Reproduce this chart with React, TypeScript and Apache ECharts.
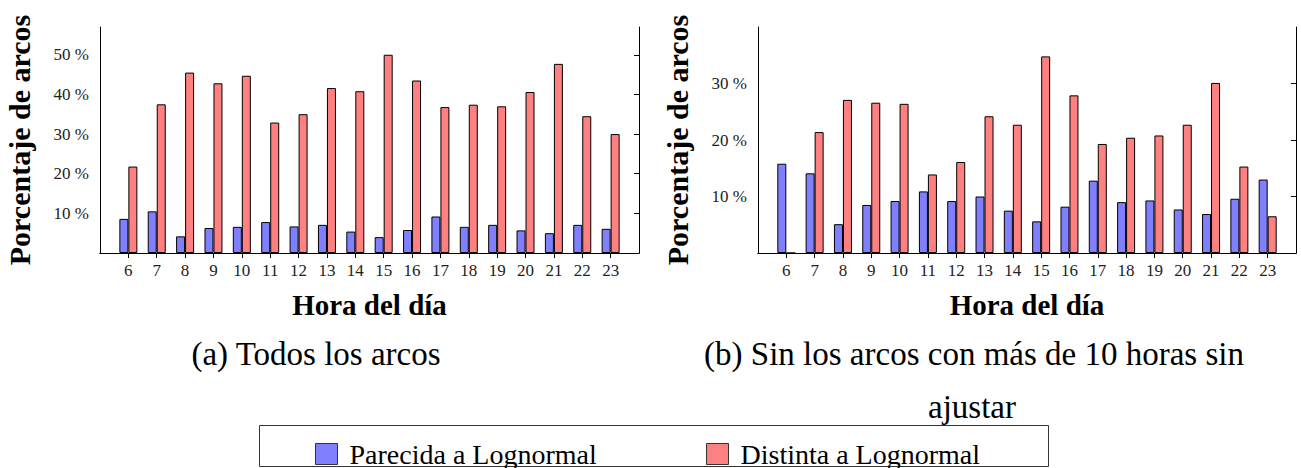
import React, { useEffect, useRef } from "react";
import * as echarts from "echarts";

const hours = [6, 7, 8, 9, 10, 11, 12, 13, 14, 15, 16, 17, 18, 19, 20, 21, 22, 23];
const parecidaA = [8.6, 10.5, 4.2, 6.3, 6.6, 7.8, 6.7, 7.1, 5.4, 4.0, 5.8, 9.2, 6.6, 7.1, 5.7, 5.0, 7.1, 6.1];
const distintaA = [21.8, 37.5, 45.5, 42.8, 44.7, 32.9, 35.0, 41.6, 40.8, 50.0, 43.5, 36.8, 37.4, 37.0, 40.6, 47.7, 34.5, 30.0];
const parecidaB = [15.8, 14.1, 5.1, 8.5, 9.2, 10.9, 9.2, 10.0, 7.5, 5.6, 8.2, 12.8, 9.0, 9.3, 7.7, 6.9, 9.6, 13.0];
const distintaB = [0, 21.4, 27.1, 26.6, 26.4, 13.9, 16.1, 24.2, 22.7, 34.8, 27.9, 19.3, 20.4, 20.8, 22.7, 30.1, 15.3, 6.5];
const yTicksA = [10, 20, 30, 40, 50];
const yTicksB = [10, 20, 30];
const seriesNames = ["Parecida a Lognormal", "Distinta a Lognormal"];
const xAxisTitle = "Hora del día";
const yAxisTitle = "Porcentaje de arcos";
const captionA = "(a) Todos los arcos";
const captionB1 = "(b) Sin los arcos con más de 10 horas sin";
const captionB2 = "ajustar";

const FONT = "'Liberation Serif', 'Times New Roman', serif";
const BLUE = "#8080ff";
const RED = "#ff8080";

export default function App() {
  const ref = useRef<HTMLDivElement>(null);
  useEffect(() => {
    if (!ref.current) return;
    const chart = echarts.init(ref.current, undefined, { renderer: "svg" });
    const grids = [
      { left: 100, top: 27, width: 539, height: 226 },
      { left: 758, top: 27, width: 538, height: 226 },
    ];
    const xAxes: any[] = [];
    const yAxes: any[] = [];
    const ymax = [57, 40];
    const yTicks = [yTicksA, yTicksB];
    [0, 1].forEach((g) => {
      xAxes.push({
        type: "value",
        gridIndex: g,
        position: "bottom",
        min: 5,
        max: 24,
        interval: 1,
        axisLine: { show: true, lineStyle: { color: "#000", width: 1 } },
        axisTick: { show: false },
        splitLine: { show: false },
        axisLabel: {
          margin: 9,
          fontFamily: FONT,
          fontSize: 17,
          color: "#222",
          formatter: (v: number) => (hours.includes(v) ? String(v) : ""),
        },
        name: xAxisTitle,
        nameLocation: "middle",
        nameGap: 37,
        nameTextStyle: { fontFamily: FONT, fontSize: 29, fontWeight: "bold", color: "#000" },
      });
      xAxes.push({
        type: "value",
        gridIndex: g,
        position: "top",
        min: 5,
        max: 24,
        interval: 1,
        axisLine: { show: true, lineStyle: { color: "#000", width: 1 } },
        axisTick: {
          show: true,
          inside: true,
          length: 5,
          lineStyle: { color: "#000" },
          customValues: hours,
        },
        splitLine: { show: false },
        axisLabel: { show: false },
      });
      yAxes.push({
        type: "value",
        gridIndex: g,
        position: "left",
        min: 0,
        max: ymax[g],
        interval: 10,
        axisLine: { show: true, lineStyle: { color: "#000", width: 1 } },
        axisTick: { show: false },
        splitLine: { show: false },
        axisLabel: {
          margin: 11,
          fontFamily: FONT,
          fontSize: 17,
          color: "#222",
          formatter: (v: number) => (yTicks[g].includes(v) ? `${v} %` : ""),
        },
        name: yAxisTitle,
        nameLocation: "middle",
        nameGap: 66,
        nameRotate: 90,
        nameTextStyle: { fontFamily: FONT, fontSize: 30, fontWeight: "bold", color: "#000" },
      });
      yAxes.push({
        type: "value",
        gridIndex: g,
        position: "right",
        min: 0,
        max: ymax[g],
        interval: 10,
        axisLine: { show: true, lineStyle: { color: "#000", width: 1 } },
        axisTick: {
          show: true,
          inside: true,
          length: 5,
          lineStyle: { color: "#000" },
          customValues: yTicks[g],
        },
        splitLine: { show: false },
        axisLabel: { show: false },
      });
    });

    const mk = (name: string, vals: number[], g: number, color: string) => ({
      type: "bar",
      name,
      xAxisIndex: g * 2,
      yAxisIndex: g * 2,
      barWidth: 9,
      barGap: "0%",
      data: hours.map((h, i) => [h, vals[i]]),
      itemStyle: { color, borderColor: "#000", borderWidth: 1 },
    });

    const legendCommon = {
      top: 440,
      itemWidth: 22,
      itemHeight: 21,
      padding: 0,
      icon: "rect",
      itemStyle: { borderColor: "#333", borderWidth: 1 },
      textStyle: { fontFamily: FONT, fontSize: 28, lineHeight: 24, color: "#000", padding: [0, 0, 0, 7] },
    };

    chart.setOption({
      animation: false,
      grid: grids,
      xAxis: xAxes,
      yAxis: yAxes,
      legend: [
        { ...legendCommon, data: [seriesNames[0]], left: 315 },
        { ...legendCommon, data: [seriesNames[1]], left: 706 },
      ],
      series: [
        mk(seriesNames[0], parecidaA, 0, BLUE),
        mk(seriesNames[1], distintaA, 0, RED),
        mk(seriesNames[0], parecidaB, 1, BLUE),
        mk(seriesNames[1], distintaB, 1, RED),
      ],
      graphic: [
        {
          type: "rect",
          shape: { x: 259.5, y: 425.5, width: 789, height: 41 },
          style: { fill: "none", stroke: "#333", lineWidth: 1 },
          silent: true,
        },
        {
          type: "text",
          x: 316,
          y: 354,
          style: { text: captionA, font: `33px ${FONT}`, fill: "#000", align: "center", verticalAlign: "middle" },
        },
        {
          type: "text",
          x: 974,
          y: 354,
          style: { text: captionB1, font: `33px ${FONT}`, fill: "#000", align: "center", verticalAlign: "middle" },
        },
        {
          type: "text",
          x: 972,
          y: 407,
          style: { text: captionB2, font: `33px ${FONT}`, fill: "#000", align: "center", verticalAlign: "middle" },
        },
      ],
    });
    return () => chart.dispose();
  }, []);
  return (
    <div
      ref={ref}
      style={{ position: "absolute", left: 0, top: 0, width: 1301, height: 468, background: "#fff" }}
    />
  );
}
